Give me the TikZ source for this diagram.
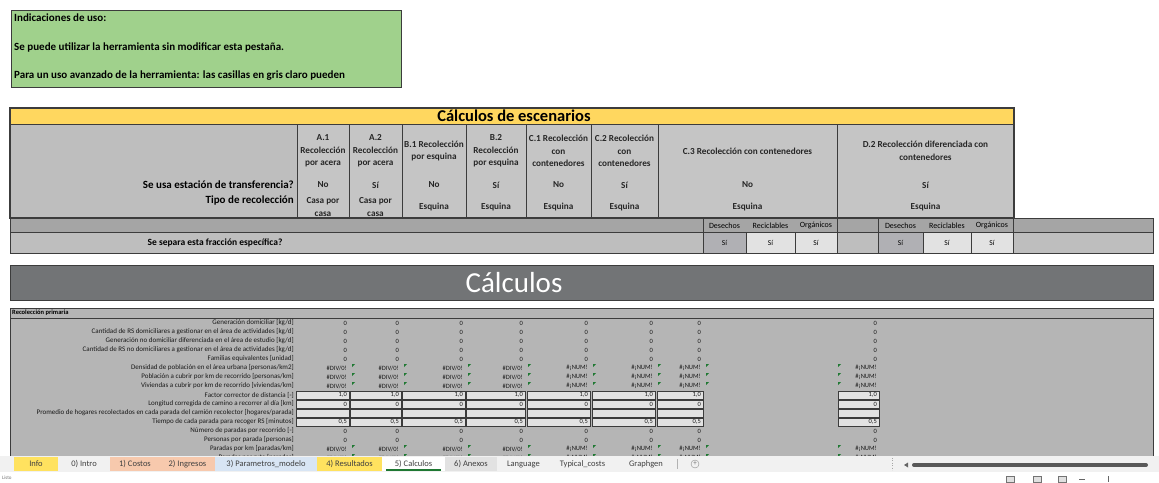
\documentclass[tikz,border=0pt]{standalone}
\usepackage{fontspec}
\setmainfont{Carlito}
\usetikzlibrary{positioning,calc}

\definecolor{hintgreen}{RGB}{160,209,140}
\definecolor{titleyellow}{RGB}{255,215,95}
\definecolor{headgray}{RGB}{190,190,190}
\definecolor{colgray}{RGB}{197,197,197}
\definecolor{bandgray}{RGB}{165,165,165}
\definecolor{selgray}{RGB}{176,176,180}
\definecolor{bannergray}{RGB}{114,116,118}
\definecolor{tablegray}{RGB}{181,181,181}
\definecolor{inputgray}{RGB}{226,226,226}
\definecolor{framegray}{RGB}{60,60,60}
\definecolor{tabbar}{RGB}{241,241,241}
\definecolor{tabinfo}{RGB}{255,226,95}
\definecolor{tabsalmon}{RGB}{247,201,173}
\definecolor{tabblue}{RGB}{216,229,244}
\definecolor{tabgray}{RGB}{226,226,226}
\definecolor{errgreen}{RGB}{30,120,50}

\newcommand{\divz}{\#DIV/0!}
\newcommand{\numz}{\#¡NUM!}

\tikzset{
  boxline/.style={draw=framegray, line width=1pt},
  hinttext/.style={font=\fontsize{11}{12}\selectfont\bfseries, anchor=west, inner sep=0pt},
  colhead/.style={font=\fontsize{9.2}{12.5}\selectfont\bfseries, align=center, inner sep=0pt, text=black!85},
  rowlabel/.style={font=\fontsize{11}{12}\selectfont\bfseries, anchor=east, inner sep=0pt},
  sublabel/.style={font=\fontsize{8}{9}\selectfont, inner sep=0pt},
  linelabel/.style={font=\fontsize{7}{7}\selectfont, anchor=east, inner sep=0pt, text=black!90},
  vallabel/.style={font=\fontsize{6.5}{7}\selectfont, anchor=east, inner sep=0pt, text=black!90},
  tabtext/.style={font=\fontsize{8.5}{9}\selectfont, inner sep=0pt, text=black!75},
}

\begin{document}
\begin{tikzpicture}[x=1pt,y=-1pt]
  \useasboundingbox[fill=white] (0,0) rectangle (1159,482);

  % hints
  \node[boxline, line width=1.3pt, fill=hintgreen, minimum width=390pt, minimum height=77pt,
        inner sep=0pt, anchor=north west] (hints) at (11,10) {};
  \node[hinttext] (hint1) at (14,18) {Indicaciones de uso:};
  \node[hinttext] (hint2) at (14,47) {Se puede utilizar la herramienta sin modificar esta pestaña.};
  \node[hinttext] (hint3) at (14,76) {Para un uso avanzado de la herramienta: las casillas en gris claro pueden};

  % scenarios
  \fill[headgray] (10,108) rectangle (1014,218);
  \fill[titleyellow] (10,108) rectangle (1014,124);
  \node[font=\fontsize{16.5}{17}\selectfont\bfseries] (escenarios) at (514,116) {Cálculos de escenarios};
  \foreach \l/\r/\id/\head/\trans/\tipo in {
      297/349/a1/{A.1\\Recolección\\por acera}/No/{Casa por\\casa},
      349/402/a2/{A.2\\Recolección\\por acera}/Sí/{Casa por\\casa},
      402/466/b1/{B.1 Recolección\\por esquina}/No/Esquina,
      466/526/b2/{B.2\\Recolección\\por esquina}/Sí/Esquina,
      526/591/c1/{C.1 Recolección\\con\\contenedores}/No/Esquina,
      591/658/c2/{C.2 Recolección\\con\\contenedores}/Sí/Esquina,
      658/837/c3/{C.3 Recolección con contenedores}/No/Esquina,
      837/1014/d2/{D.2 Recolección diferenciada con\\contenedores}/Sí/Esquina} {
    \draw[boxline, fill=colgray] (\l,124) rectangle (\r,218);
    \node[colhead] (h\id) at ({(\l+\r)/2},151) {\head};
    \node[colhead] (t\id) at ({(\l+\r)/2},185) {\trans};
    \node[colhead] (r\id) at ({(\l+\r)/2},207) {\tipo};
  }
  \draw[boxline, line width=1.3pt] (10,108) rectangle (1014,218);
  \draw[boxline] (10,124) -- (1014,124);
  \node[rowlabel] (transferencia) at (294,185) {Se usa estación de transferencia?};
  \node[rowlabel] (recoleccion) at (294,201) {Tipo de recolección};

  % fractions
  \draw[boxline, fill=bandgray] (10,218) rectangle (1153,232);
  \draw[boxline, fill=headgray] (10,232) rectangle (1153,253);
  \foreach \l/\r/\fc/\id/\txt/\val in {
      703/746/selgray/f1/Desechos/Sí, 746/795/inputgray/f2/Reciclables/Sí, 795/837/inputgray/f3/Orgánicos/Sí,
      878/923/selgray/f4/Desechos/Sí, 923/971/inputgray/f5/Reciclables/Sí, 971/1013/inputgray/f6/Orgánicos/Sí} {
    \draw[boxline, line width=0.7pt, fill=\fc] (\l,232) rectangle (\r,253);
    \node[sublabel] (n\id) at ({(\l+\r)/2},225.5) {\txt};
    \node[sublabel, font=\fontsize{7.5}{8}\selectfont] (v\id) at ({(\l+\r)/2},242.5) {\val};
  }
  \foreach \x in {703,837,878,1013} {
    \draw[boxline, line width=0.7pt] (\x,218) -- (\x,232);
  }
  \node[rowlabel, font=\fontsize{9.5}{11}\selectfont\bfseries, anchor=center] (separa) at (215,242.5) {Se separa esta fracción específica?};

  % banner
  \node[boxline, fill=bannergray, minimum width=1143pt, minimum height=35pt,
        inner sep=0pt, anchor=north west] (banner) at (10,265) {};
  \node[font=\fontsize{29}{30}\selectfont, text=white] (calculos) at (514,283) {Cálculos};

  % calculations
  \fill[tablegray] (10,308) rectangle (1153,460);
  \draw[boxline] (10,460) -- (10,308) -- (1153,308) -- (1153,460);
  \draw[framegray, line width=0.6pt] (10,318) -- (1153,318);
  \node[font=\fontsize{6.5}{7}\selectfont\bfseries, anchor=west, inner sep=0pt] (primaria) at (12,313) {Recolección primaria};
  \foreach \k/\txt [evaluate=\k as \yy using 314+9*\k] in {
      1/{Generación domiciliar [kg/d]},
      2/{Cantidad de RS domiciliares a gestionar en el área de actividades [kg/d]},
      3/{Generación no domiciliar diferenciada en el área de estudio [kg/d]},
      4/{Cantidad de RS no domiciliares a gestionar en el área de actividades [kg/d]},
      5/{Familias equivalentes [unidad]},
      6/{Densidad de población en el área urbana [personas/km2]},
      7/{Población a cubrir por km de recorrido [personas/km]},
      8/{Viviendas a cubrir por km de recorrido [viviendas/km]},
      9/{Factor corrector de distancia [-]},
      10/{Longitud corregida de camino a recorrer al día [km]},
      11/{Promedio de hogares recolectados en cada parada del camión recolector [hogares/parada]},
      12/{Tiempo de cada parada para recoger RS [minutos]},
      13/{Número de paradas por recorrido [-]},
      14/{Personas por parada [personas]},
      15/{Paradas por km [paradas/km]},
      16/{Paradas por ruta [paradas]}} {
    \node[linelabel] (l\k) at (294,\yy) {\txt};
  }
  % input fields
  \foreach \l/\r in {296/349, 350/401, 402/465, 466/525, 527/590, 592/655, 657/703, 838/879} {
    \foreach \k in {9,...,12} {
      \draw[draw=framegray, line width=0.6pt, fill=inputgray] (\l,310+9*\k) rectangle (\r,318+9*\k);
    }
  }
  % values
  \foreach \r/\err/\m in {347/\divz/352, 399/\divz/404, 463/\divz/468, 523/\divz/528,
                          588/\numz/593, 653/\numz/658, 701/\numz/706, 877/\numz/838} {
    \foreach \k/\v in {1/0, 2/0, 3/0, 4/0, 5/0, 6/\err, 7/\err, 8/\err, 9/{1,0}, 10/0,
                       12/{0,5}, 13/0, 14/0, 15/\err, 16/\err} {
      \node[vallabel] (v\r-\k) at (\r,314+9*\k) {\v};
    }
    \foreach \k in {6,7,8,15,16} {
      \fill[errgreen] (\m,310+9*\k) -- ++(3,0) -- ++(-3,3) -- cycle;
    }
  }

  % sheet tabs
  \fill[tabbar] (0,456) rectangle (1159,472);
  \foreach \i/\l/\r/\col/\txt in {
      1/14/58/tabinfo/Info, 2/58/110/tabbar/0) Intro, 3/110/160/tabsalmon/1) Costos,
      4/160/215/tabsalmon/2) Ingresos, 5/215/317/tabblue/3) Parametros\_modelo,
      6/317/382/tabinfo/4) Resultados, 7/382/445/white/5) Calculos, 8/445/497/tabgray/6) Anexos,
      9/497/550/tabbar/Language, 10/550/615/tabbar/Typical\_costs, 11/615/677/tabbar/Graphgen} {
    \fill[\col] (\l,457) rectangle (\r,471);
    \node[tabtext] (tab\i) at ({(\l+\r)/2},464) {\txt};
    \draw[black!30] (\r,459) -- (\r,469);
  }
  \draw[errgreen, line width=1.2pt] (386,470) -- (441,470);
  \node[draw=black!45, circle, minimum size=8pt, inner sep=0pt, text=black!55,
        font=\fontsize{7}{7}\selectfont] (addsheet) at (695,464) {+};
  \draw[black!35, dotted] (892,458) -- (892,470);
  \fill[black!60] (904,465) -- (908,462.5) -- (908,467.5) -- cycle;
  \draw[black!65, line width=4pt, line cap=round] (914,465) -- (1146,465);

  % status bar
  \node[font=\fontsize{5}{6}\selectfont, text=black!55, anchor=west, inner sep=0pt] (listo) at (2,478) {Listo};
  \foreach \x in {1010,1037,1062} {
    \draw[black!55, fill=black!12] (\x-4,476) rectangle (\x+4,482);
  }
  \draw[black!60] (1079,479) -- (1085,479);
  \draw[black!60, line width=1pt] (1108,476) -- (1108,482);
\end{tikzpicture}
\end{document}
